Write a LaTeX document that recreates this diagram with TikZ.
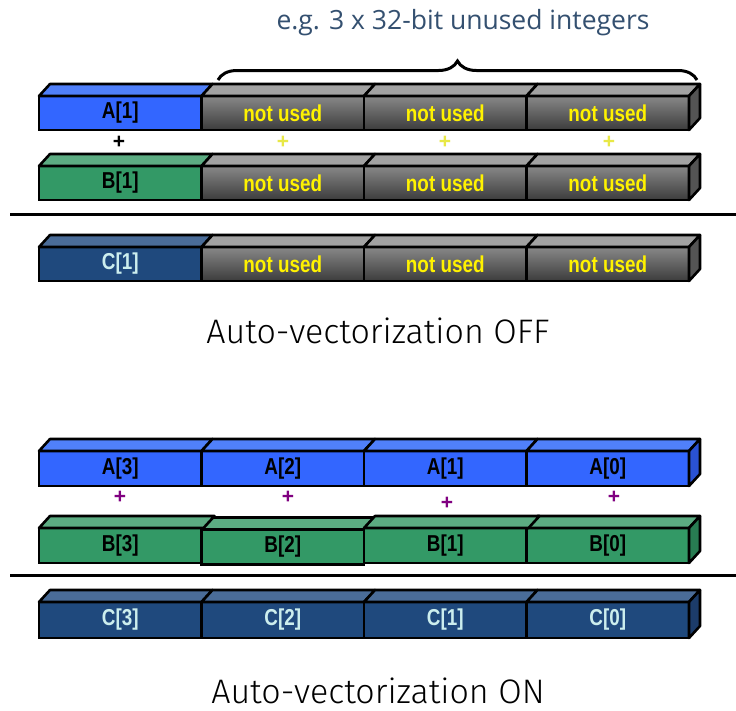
\documentclass[tikz,border=0pt]{standalone}
\usepackage{fontspec}
\setmainfont{Liberation Sans}
\newfontfamily\capfont{Fira Sans}[UprightFont={* Light}]
\newfontfamily\notefont{Open Sans}
\usetikzlibrary{decorations.pathreplacing}

% register colours
\definecolor{aFront}{RGB}{51,102,255}
\definecolor{aTop}{RGB}{80,128,250}
\definecolor{aSide}{RGB}{42,82,212}
\definecolor{bFront}{RGB}{51,153,102}
\definecolor{bTop}{RGB}{92,172,130}
\definecolor{bSide}{RGB}{40,124,82}
\definecolor{cFront}{RGB}{31,73,125}
\definecolor{cTop}{RGB}{74,108,152}
\definecolor{cSide}{RGB}{28,60,106}
\definecolor{cText}{RGB}{204,238,238}
\definecolor{gTop}{RGB}{162,162,162}
\definecolor{gHi}{RGB}{136,136,136}
\definecolor{gLo}{RGB}{60,60,60}
\definecolor{gSide}{RGB}{84,84,84}
\definecolor{noteBlue}{RGB}{52,80,112}
\definecolor{plusPurple}{RGB}{128,0,128}
\definecolor{plusYellow}{RGB}{232,232,70}

\tikzset{
  cell/.style={draw=black, line width=2.6pt, inner sep=0pt, outer sep=0pt,
    minimum width=162.5pt, minimum height=34pt, anchor=north west,
    font=\bfseries\fontsize{23}{23}\selectfont},
  greycell/.style={cell, top color=gHi, bottom color=gLo, text=yellow},
  face/.style={draw=black, line width=2.6pt, line join=round},
  plus/.style={font=\bfseries\fontsize{21}{21}\selectfont, inner sep=0pt},
  caption/.style={font=\capfont\fontsize{34}{34}\selectfont, text=black,
    inner sep=0pt, anchor=base},
}
% narrow bold cell label
\newcommand\lbl[1]{\scalebox{0.82}[1]{#1}}

% top face and right side of a register cell
\newcommand\topface[3][0]{%
  \draw[face, fill=#3] (#2.north west) -- ++(11,-12)
    -- ([shift={(11+#1,-12)}]#2.north east) -- ([shift={(#1,0)}]#2.north east) -- cycle;}
\newcommand\sideface[2]{%
  \draw[face, fill=#2] (#1.north east) -- ++(11,-12)
    -- ([shift={(11,-12)}]#1.south east) -- (#1.south east) -- cycle;}

\begin{document}
\begin{tikzpicture}[x=1pt, y=-1pt]
\useasboundingbox[fill=white] (0,0) rectangle (736,710);

% ---------------- scalar add ----------------
\node[font=\notefont\fontsize{26.5}{26.5}\selectfont, text=noteBlue, inner sep=0pt, anchor=base] (note) at (463,29) {e.g. 3 x 32-bit unused integers};
\coordinate (brL) at (218,80);
\coordinate (brR) at (697,80);
\draw[line width=3pt, decorate, decoration={brace, amplitude=19pt}] (brL) -- (brR);

% row A
\node[cell, fill=aFront] (sA0) at (39,96) {\lbl{A[1]}};
\foreach \i in {1,2,3} \node[greycell] (sA\i) at ({39+162.5*\i},96) {\lbl{not used}};
\topface{sA0}{aTop}
\foreach \i in {1,2,3} {\topface{sA\i}{gTop}}
\sideface{sA3}{gSide}

% plus signs
\node[plus, text=black] (sp0) at (119,142) {+};
\node[plus, text=plusYellow] (sp1) at (283,142) {+};
\node[plus, text=plusYellow] (sp2) at (445,142) {+};
\node[plus, text=plusYellow] (sp3) at (609,142) {+};

% row B
\node[cell, fill=bFront] (sB0) at (39,166) {\lbl{B[1]}};
\foreach \i in {1,2,3} \node[greycell] (sB\i) at ({39+162.5*\i},166) {\lbl{not used}};
\topface{sB0}{bTop}
\foreach \i in {1,2,3} {\topface{sB\i}{gTop}}
\sideface{sB3}{gSide}

\draw[line width=3pt] (10,214) -- (736,214);

% row C
\node[cell, fill=cFront, text=cText] (sC0) at (39,247) {\lbl{C[1]}};
\foreach \i in {1,2,3} \node[greycell] (sC\i) at ({39+162.5*\i},247) {\lbl{not used}};
\topface{sC0}{cTop}
\foreach \i in {1,2,3} {\topface{sC\i}{gTop}}
\sideface{sC3}{gSide}

\node[caption] (capOff) at (378,343) {Auto-vectorization OFF};

% ---------------- vector add ----------------
% row A
\foreach \i/\lab in {0/A[3],1/A[2],2/A[1],3/A[0]} {
  \node[cell, fill=aFront, minimum height=35pt] (vA\i) at ({39+162.5*\i},451) {\lbl{\lab}};
  \topface{vA\i}{aTop}
}
\sideface{vA3}{aSide}

\node[plus, text=plusPurple] (vp0) at (120,497) {+};
\node[plus, text=plusPurple] (vp1) at (288,497) {+};
\node[plus, text=plusPurple] (vp2) at (447,503) {+};
\node[plus, text=plusPurple] (vp3) at (614,497) {+};

% row B
\node[cell, fill=bFront, minimum height=35pt] (vB1) at ({39+162.5},529.5) {\lbl{B[2]}};
\node[cell, fill=bFront, minimum height=35pt] (vB3) at ({39+162.5*3},528) {\lbl{B[0]}};
\topface{vB1}{bTop}
\topface{vB3}{bTop}
\sideface{vB3}{bSide}
\node[cell, fill=bFront, minimum height=35pt] (vB0) at (39,528) {\lbl{B[3]}};
\node[cell, fill=bFront, minimum height=35pt] (vB2) at ({39+162.5*2},528) {\lbl{B[1]}};
\topface[2]{vB0}{bTop}
\topface[2]{vB2}{bTop}

\draw[line width=3pt] (10,575) -- (736,575);

% row C
\foreach \i/\lab in {0/C[3],1/C[2],2/C[1],3/C[0]} {
  \node[cell, fill=cFront, text=cText, minimum height=36pt] (vC\i) at ({39+162.5*\i},602) {\lbl{\lab}};
  \topface{vC\i}{cTop}
}
\sideface{vC3}{cSide}

\node[caption] (capOn) at (378,703) {Auto-vectorization ON};
\end{tikzpicture}
\end{document}
